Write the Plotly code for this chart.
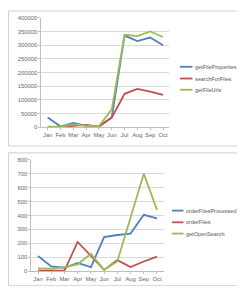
import plotly.graph_objects as go

months = ["Jan", "Feb", "Mar", "Apr", "May", "Jun", "Jul", "Aug", "Sep", "Oct"]

get_file_properties = [35000, 2000, 15000, 5000, 3000, 35000, 335000, 315000, 328000, 300000]
search_for_files = [0, 0, 5000, 8000, 2000, 35000, 122000, 140000, 130000, 118000]
get_file_urls = [2000, 1000, 10000, 5000, 3000, 65000, 338000, 333000, 350000, 330000]

order_files_processed = [110, 35, 25, 60, 30, 245, 260, 270, 405, 380]
order_files = [5, 5, 5, 210, 110, 10, 80, 30, 70, 105]
get_open_search = [20, 18, 30, 50, 125, 10, 70, 390, 700, 440]

top_names = ["getFileProperties", "searchForFiles", "getFileUrls"]
bottom_names = ["orderFilesProcessed", "orderFiles", "getOpenSearch"]
colors = ["#4F81BD", "#C0504D", "#9BBB59"]

# the page body has an 8px margin; keep the page from overflowing vertically
OFF = 8
W, H = 245 - OFF, 294 - 2 * OFF


def px(x):
    return (x - OFF) / W


def py(y):
    return 1 - (y - OFF) / H


fig = go.Figure()

for name, vals, c in zip(top_names, [get_file_properties, search_for_files, get_file_urls], colors):
    fig.add_trace(go.Scatter(x=months, y=vals, name=name, mode="lines",
                             line=dict(color=c, width=1.8), xaxis="x", yaxis="y"))
for name, vals, c in zip(bottom_names, [order_files_processed, order_files, get_open_search], colors):
    fig.add_trace(go.Scatter(x=months, y=vals, name=name, mode="lines",
                             line=dict(color=c, width=1.8), xaxis="x2", yaxis="y2"))

tickfont = dict(size=5.8, color="#666666", family="Liberation Sans")
xcommon = dict(type="category", range=[-0.5, 9.5], showgrid=False, showline=True,
               linecolor="#BFBFBF", linewidth=1, ticks="outside", ticklen=2,
               tickcolor="#BFBFBF", tickfont=tickfont, zeroline=False, fixedrange=True)
ycommon = dict(showgrid=True, gridcolor="#D9D9D9", gridwidth=1, showline=True,
               linecolor="#BFBFBF", linewidth=1, ticks="outside", ticklen=2,
               tickcolor="#BFBFBF", tickfont=tickfont, zeroline=False)

shapes = [
    dict(type="rect", xref="paper", yref="paper", x0=px(8.5), x1=px(241),
         y0=py(146), y1=1.0, line=dict(color="#D0D0D0", width=1)),
    dict(type="rect", xref="paper", yref="paper", x0=px(8.5), x1=1.01,
         y0=-0.01, y1=py(153), line=dict(color="#D0D0D0", width=1)),
]
annotations = []


def add_legend(names, x_line0, x_line1, ys):
    for name, c, yp in zip(names, colors, ys):
        shapes.append(dict(type="line", xref="paper", yref="paper",
                           x0=px(x_line0), x1=px(x_line1), y0=py(yp), y1=py(yp),
                           line=dict(color=c, width=1.8)))
        annotations.append(dict(xref="paper", yref="paper", x=px(x_line1 + 0.3),
                                y=py(yp), text=name, showarrow=False,
                                xanchor="left", yanchor="middle",
                                font=dict(size=5.5, color="#555555", family="Liberation Sans")))


add_legend(top_names, 180, 192.5, [65, 77, 88.5])
add_legend(bottom_names, 172, 183.5, [212, 224, 235.5])

fig.update_layout(
    width=W, height=H,
    margin=dict(l=0, r=0, t=0, b=0),
    paper_bgcolor="white", plot_bgcolor="white",
    showlegend=False,
    xaxis=dict(domain=[px(41.3), px(169.4)], anchor="y", **xcommon),
    yaxis=dict(domain=[py(126.7), py(15)], anchor="x", range=[0, 400000],
               dtick=50000, tickformat="d", **ycommon),
    xaxis2=dict(domain=[px(31.4), px(163.6)], anchor="y2", **xcommon),
    yaxis2=dict(domain=[py(274), py(160)], anchor="x2", range=[0, 800],
                dtick=100, **ycommon),
    shapes=shapes,
    annotations=annotations,
)

fig.write_html("out.html")
